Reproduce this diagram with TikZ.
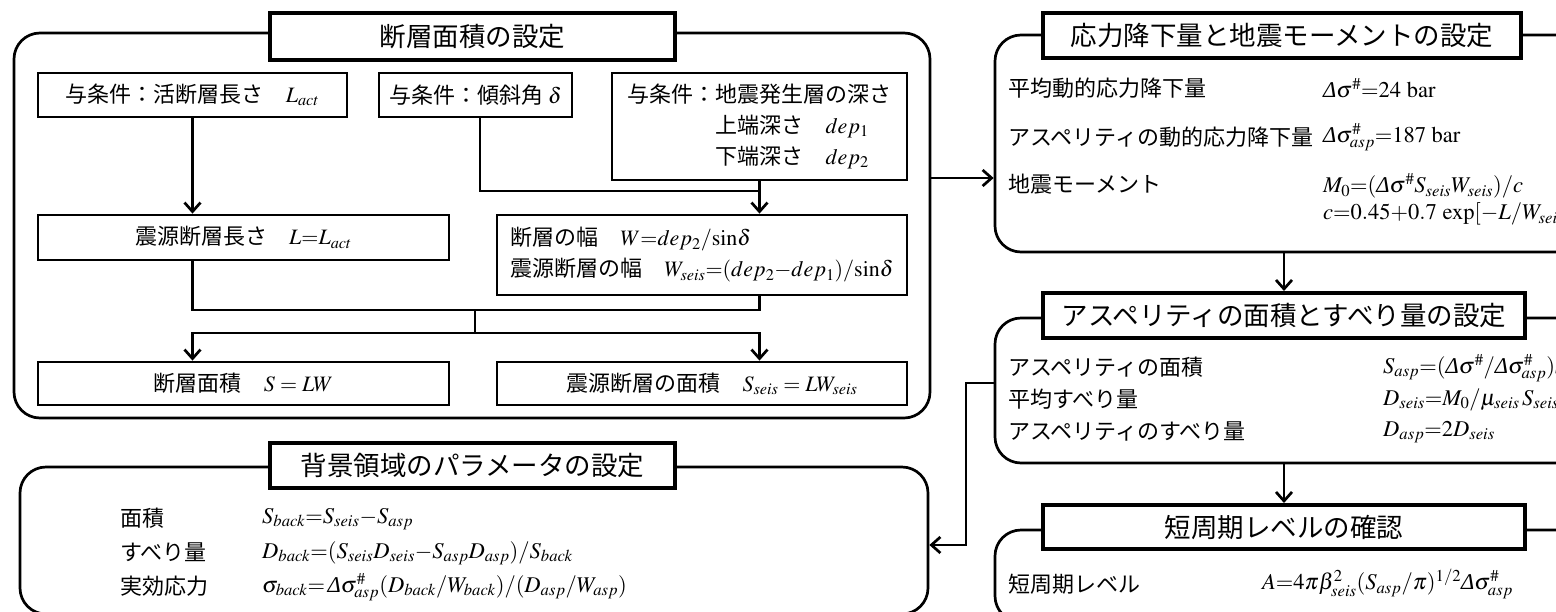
\documentclass[tikz,border=0pt]{standalone}
\usepackage{mathptmx}
\usepackage{fontspec}
\setmainfont{Liberation Serif}
\newfontfamily\jpfont{Noto Sans CJK JP}
\usetikzlibrary{arrows.meta}

\newcommand{\dlt}{\mbox{\rmfamily\itshape Δ}}

\tikzset{
  frame/.style={draw, line width=2.7pt, rounded corners=26pt},
  titlebox/.style={draw, line width=4pt, fill=white, inner sep=0pt,
    font=\jpfont\fontsize{26.5}{30}\selectfont},
  box/.style={draw, line width=2.8pt, inner sep=0pt, align=left,
    font=\jpfont\fontsize{22}{31}\selectfont},
  param/.style={anchor=west, inner sep=0pt, font=\jpfont\fontsize{22}{26}\selectfont},
  eqn/.style={anchor=west, inner sep=0pt, font=\rmfamily\fontsize{22.5}{26}\selectfont},
  link/.style={line width=2.7pt},
  arrow/.style={link, -{Straight Barb[length=9pt,width=16pt,line width=2.7pt]}},
}

\begin{document}
\begin{tikzpicture}[x=1pt,y=-1pt]
\useasboundingbox (0,0) rectangle (1556,611);
\clip (0,0) rectangle (1556,611);

% The frames
\node[frame, minimum width=916pt, minimum height=385pt] (area) at (472,225.5) {};
\node[frame, minimum width=908pt, minimum height=147pt] (back) at (474,540.5) {};
\node[frame, minimum width=605pt, minimum height=217pt] (stress) at (1297.5,143.5) {};
\node[frame, minimum width=605pt, minimum height=145pt] (asperity) at (1297.5,390.5) {};
\node[frame, minimum width=605pt, minimum height=92pt] (level) at (1297.5,576) {};

% The titles
\node[titlebox, minimum width=405pt, minimum height=47pt] (areatitle) at (472.5,36.5) {断層面積の設定};
\node[titlebox, minimum width=405pt, minimum height=45pt] (backtitle) at (472.5,465.5) {背景領域のパラメータの設定};
\node[titlebox, minimum width=478pt, minimum height=45pt] (stresstitle) at (1282,35.5) {応力降下量と地震モーメントの設定};
\node[titlebox, minimum width=482pt, minimum height=45pt] (asptitle) at (1284,315.5) {アスペリティの面積とすべり量の設定};
\node[titlebox, minimum width=482pt, minimum height=44pt] (leveltitle) at (1284,527) {短周期レベルの確認};

% The boxes of the fault area
\node[box, minimum width=309pt, minimum height=44pt] (lact) at (192.5,95) {与条件：活断層長さ　$L_{act}$};
\node[box, minimum width=193pt, minimum height=44pt] (dip) at (475.5,95) {与条件：傾斜角 $\delta$};
\node[box, minimum width=295pt, minimum height=107pt] (depth) at (759.5,126.5)
  {与条件：地震発生層の深さ\\\hspace*{88pt}上端深さ　$dep_1$\\\hspace*{88pt}下端深さ　$dep_2$};
\node[box, minimum width=411pt, minimum height=45pt] (lseis) at (243.5,237.5) {震源断層長さ　$L{=}L_{act}$};
\node[box, minimum width=410pt, minimum height=80pt] (width) at (702,255)
  {断層の幅　$W{=}dep_2/\mathrm{sin}\delta$\\震源断層の幅　$W_{seis}{=}(dep_2{-}dep_1)/\mathrm{sin}\delta$};
\node[box, minimum width=411pt, minimum height=43pt] (sarea) at (243.5,383.5) {断層面積　$S = LW$};
\node[box, minimum width=410pt, minimum height=43pt] (sseis) at (702,383.5) {\hspace*{20pt}震源断層の面積　$S_{seis} = LW_{seis}$};

% The links inside the fault area
\coordinate (dipjoin) at (480,191);
\coordinate (merge) at (475,310);
\coordinate (split) at (475,333);
\draw[arrow] (lact.south) -- (lact.south |- lseis.north);
\draw[link] (dip.south -| dipjoin) -- (dipjoin) -- (dipjoin -| depth.south);
\draw[arrow] (depth.south) -- (depth.south |- width.north);
\draw[link] (lact.south |- lseis.south) |- (merge) -| (depth.south |- width.south);
\draw[link] (merge) -- (split);
\draw[arrow] (split) -| (lact.south |- sarea.north);
\draw[arrow] (split) -| (depth.south |- sseis.north);

% The stress drop and moment
\node[param] (avgdrop) at (1008,88) {平均動的応力降下量};
\node[eqn] (avgdropeq) at (1323,88) {$\dlt\sigma^{\#}{=}24\ \mathrm{bar}$};
\node[param] (aspdrop) at (1008,137) {アスペリティの動的応力降下量};
\node[eqn] (aspdropeq) at (1323,137) {$\dlt\sigma^{\#}_{asp}{=}187\ \mathrm{bar}$};
\node[param] (moment) at (1008,184) {地震モーメント};
\node[eqn] (momenteq) at (1323,186) {$M_0{=}(\dlt\sigma^{\#}S_{seis}W_{seis})/c$};
\node[eqn] (coefeq) at (1323,214) {$c{=}0.45{+}0.7\ \mathrm{exp}[-L/W_{seis}]$};

% The asperity
\node[param] (asparea) at (1008,367) {アスペリティの面積};
\node[eqn] (aspareaeq) at (1383,368) {$S_{asp}{=}(\dlt\sigma^{\#}/\dlt\sigma^{\#}_{asp})S_{seis}$};
\node[param] (avgslip) at (1008,399) {平均すべり量};
\node[eqn] (avgslipeq) at (1383,400) {$D_{seis}{=}M_0/\mu_{seis}\,S_{seis}$};
\node[param] (aspslip) at (1008,431) {アスペリティのすべり量};
\node[eqn] (aspslipeq) at (1383,432) {$D_{asp}{=}2D_{seis}$};

% The short period level
\node[param] (shortlevel) at (1008,584) {短周期レベル};
\node[eqn] (shortleveleq) at (1262,584) {$A{=}4\pi\beta^2_{seis}(S_{asp}/\pi)^{1/2}\dlt\sigma^{\#}_{asp}$};

% The background
\node[param] (backarea) at (120,518) {面積};
\node[eqn] (backareaeq) at (262,519) {$S_{back}{=}S_{seis}{-}S_{asp}$};
\node[param] (backslip) at (120,552) {すべり量};
\node[eqn] (backslipeq) at (262,553) {$D_{back}{=}(S_{seis}D_{seis}{-}S_{asp}D_{asp})/S_{back}$};
\node[param] (backstress) at (120,586) {実効応力};
\node[eqn] (backstresseq) at (262,587) {$\sigma_{back}{=}\,\dlt\sigma^{\#}_{asp}(D_{back}/W_{back})/(D_{asp}/W_{asp})$};

% The links between the frames
\coordinate (tostress) at (960,178);
\coordinate (turn1) at (966,383);
\coordinate (turn2) at (966,545);
\draw[arrow] (tostress -| area.east) -- (tostress -| stress.west);
\draw[arrow] (asptitle.north |- stress.south) -- (asptitle.north);
\draw[arrow] (leveltitle.north |- asperity.south) -- (leveltitle.north);
\draw[arrow] (turn1 -| asperity.west) -- (turn1) -- (turn2) -- (turn2 -| back.east);
\end{tikzpicture}
\end{document}
